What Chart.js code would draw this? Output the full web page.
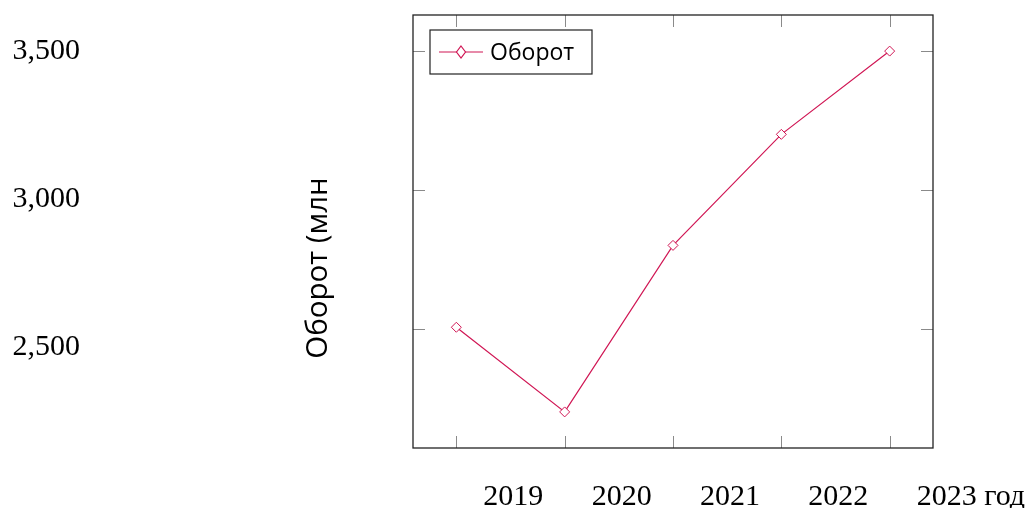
<!DOCTYPE html>
<html>
<head>
<meta charset="utf-8">
<script src="https://cdn.jsdelivr.net/npm/chart.js@4"></script>
<style>
  html, body { margin: 0; padding: 0; background: #fff; }
  #wrap { width: 1027px; height: 508px; }
</style>
</head>
<body>
<div id="wrap"><canvas id="chart" width="1027" height="508"></canvas></div>
<script>
const years = [2019, 2020, 2021, 2022, 2023];
const turnover = [2505, 2200, 2800, 3200, 3500];
const yTicks = [2500, 3000, 3500];
const yTickLabels = ['2,500', '3,000', '3,500'];
const xUnit = 'год';
const seriesName = 'Оборот';
const yTitle = 'Оборот (млн';

const lineColor = 'rgb(208, 22, 84)';

// pgfplots-like frame, inside ticks, legend and the offset labels
const framePlugin = {
  id: 'frame',
  afterDatasetsDraw(chart) {
    const { ctx, chartArea: a, scales: { x, y } } = chart;
    ctx.save();

    // inside tick marks
    ctx.strokeStyle = '#8a8a8a';
    ctx.lineWidth = 1;
    years.forEach(v => {
      const px = Math.round(x.getPixelForValue(v)) + 0.5;
      ctx.beginPath();
      ctx.moveTo(px, a.bottom); ctx.lineTo(px, a.bottom - 12);
      ctx.moveTo(px, a.top); ctx.lineTo(px, a.top + 12);
      ctx.stroke();
    });
    yTicks.forEach(v => {
      const py = Math.round(y.getPixelForValue(v)) + 0.5;
      ctx.beginPath();
      ctx.moveTo(a.left, py); ctx.lineTo(a.left + 12, py);
      ctx.moveTo(a.right, py); ctx.lineTo(a.right - 12, py);
      ctx.stroke();
    });

    // frame
    ctx.strokeStyle = '#222';
    ctx.lineWidth = 1.3;
    ctx.strokeRect(a.left, a.top, a.right - a.left, a.bottom - a.top);

    // y tick labels (far left, serif)
    ctx.fillStyle = '#000';
    ctx.font = '30px "Liberation Serif", serif';
    ctx.textAlign = 'right';
    ctx.textBaseline = 'middle';
    const top = y.getPixelForValue(yTicks[yTicks.length - 1]);
    yTicks.forEach((v, i) => {
      const py = top + (yTicks[yTicks.length - 1] - v) / 500 * 148;
      ctx.fillText(yTickLabels[i], 80, py);
    });

    // x tick labels
    ctx.textAlign = 'left';
    ctx.textBaseline = 'alphabetic';
    years.forEach((v, i) => {
      const px = x.getPixelForValue(v) + 27;
      const txt = i === years.length - 1 ? v + ' ' + xUnit : String(v);
      ctx.fillText(txt, px, 505);
    });

    // y axis title
    ctx.save();
    ctx.translate(327, 268);
    ctx.rotate(-Math.PI / 2);
    ctx.font = '29.5px "Open Sans", sans-serif';
    ctx.textAlign = 'center';
    ctx.textBaseline = 'alphabetic';
    ctx.fillText(yTitle, 0, 0);
    ctx.restore();

    // legend box
    const lx = a.left + 17, ly = a.top + 15, lw = 162, lh = 44;
    ctx.fillStyle = '#fff';
    ctx.fillRect(lx, ly, lw, lh);
    ctx.strokeStyle = '#222';
    ctx.lineWidth = 1.2;
    ctx.strokeRect(lx, ly, lw, lh);
    const my = ly + lh / 2;
    ctx.strokeStyle = lineColor;
    ctx.lineWidth = 1.2;
    ctx.beginPath();
    ctx.moveTo(lx + 9, my); ctx.lineTo(lx + 53, my);
    ctx.stroke();
    const cx = lx + 31;
    ctx.fillStyle = '#fff';
    ctx.beginPath();
    ctx.moveTo(cx, my - 6); ctx.lineTo(cx + 4.5, my);
    ctx.lineTo(cx, my + 6); ctx.lineTo(cx - 4.5, my);
    ctx.closePath();
    ctx.fill(); ctx.stroke();
    ctx.fillStyle = '#000';
    ctx.font = '23px "Open Sans", sans-serif';
    ctx.textAlign = 'left';
    ctx.textBaseline = 'middle';
    ctx.fillText(seriesName, lx + 60, my + 1);

    ctx.restore();
  }
};

new Chart(document.getElementById('chart'), {
  type: 'line',
  data: {
    datasets: [{
      label: seriesName,
      data: years.map((v, i) => ({ x: v, y: turnover[i] })),
      borderColor: lineColor,
      borderWidth: 1.2,
      backgroundColor: '#fff',
      pointStyle: 'rectRot',
      pointRadius: 5,
      pointBorderColor: lineColor,
      pointBackgroundColor: '#fff',
      pointBorderWidth: 1,
      tension: 0
    }]
  },
  options: {
    responsive: false,
    animation: false,
    layout: { padding: { left: 405, top: 15, right: 94, bottom: 52 } },
    plugins: { legend: { display: false }, tooltip: { enabled: false } },
    scales: {
      x: {
        type: 'linear', min: 2018.6, max: 2023.4,
        ticks: { display: false }, grid: { display: false }, border: { display: false }
      },
      y: {
        min: 2070, max: 3630,
        ticks: { display: false }, grid: { display: false }, border: { display: false }
      }
    }
  },
  plugins: [framePlugin]
});
</script>
</body>
</html>
